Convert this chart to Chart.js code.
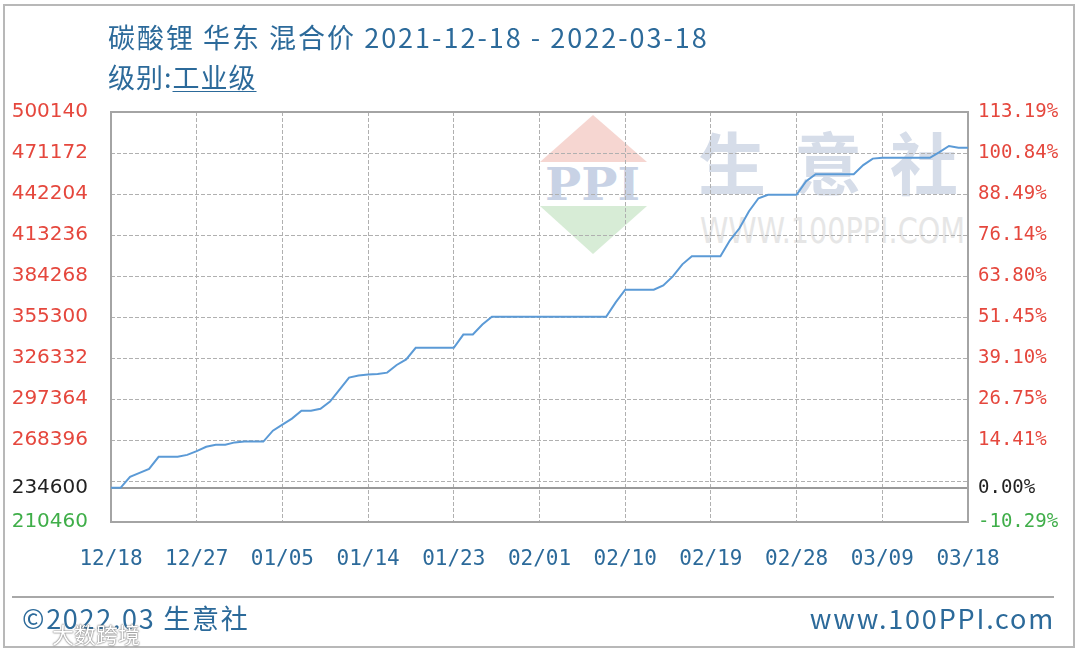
<!DOCTYPE html>
<html>
<head>
<meta charset="utf-8">
<script src="https://cdn.jsdelivr.net/npm/chart.js@4.4.1/dist/chart.umd.min.js"></script>
<style>
  html, body { margin: 0; padding: 0; background: #fff; }
  #wrap { position: relative; width: 1080px; height: 655px; overflow: hidden; font-family: "Noto Sans CJK SC", "Noto Sans", sans-serif; }
  .frame { position: absolute; left: 3px; top: 4px; width: 1072px; height: 644px; border: 2px solid #b8b8b8; box-sizing: border-box; }
  .txt { position: absolute; white-space: nowrap; line-height: 1; color: #2c6a9a; }
  #title { left: 108px; top: 23px; font-size: 27px; letter-spacing: 2px; }
  #grade { left: 108px; top: 63px; font-size: 27px; letter-spacing: 1px; }
  #grade u { text-decoration-thickness: 1px; text-underline-offset: 3px; }
  .sep { position: absolute; left: 12px; top: 596px; width: 1042px; height: 2px; background: #a8a8a8; }
  #copy { left: 22px; top: 604px; font-size: 27px; letter-spacing: 1.7px; }
  #site { right: 25px; top: 604px; font-size: 27px; letter-spacing: 1.8px; }
  #mark { left: 52px; top: 622px; font-size: 22px; color: #fff; text-shadow: 0 0 2px #666, 0 0 1px #666; }
  #wm { position: absolute; left: 0; top: 0; }
  #chart { position: absolute; left: 0; top: 0; }
</style>
</head>
<body>
<div id="wrap">
  <div class="frame"></div>
  <svg id="wm" width="1080" height="655">
    <polygon points="593,115 647,162 540,162" fill="#f6d6d1"/>
    <text x="545" y="200" font-family="DejaVu Serif" font-weight="bold" font-size="45" fill="#c8d2e5" textLength="95" lengthAdjust="spacingAndGlyphs">PPI</text>
    <polygon points="540,206 647,206 593,254" fill="#d7ecd6"/>
    <text x="698" y="190" font-family="Noto Sans CJK SC" font-weight="bold" font-size="68" fill="#d6dde9" letter-spacing="28">生意社</text>
    <text x="700" y="243" font-family="DejaVu Sans" font-size="35" fill="#e6e6e6" textLength="265" lengthAdjust="spacingAndGlyphs">WWW.100PPI.COM</text>
  </svg>
  <canvas id="chart" width="1080" height="655"></canvas>
  <div class="txt" id="title">碳酸锂 华东 混合价 2021-12-18 - 2022-03-18</div>
  <div class="txt" id="grade">级别:<u>工业级</u></div>
  <div class="sep"></div>
  <div class="txt" id="copy">©2022.03 生意社</div>
  <div class="txt" id="site">www.100PPI.com</div>
  <div class="txt" id="mark">大数跨境</div>
</div>
<script>
const tickLabels = ['12/18', '12/27', '01/05', '01/14', '01/23', '02/01', '02/10', '02/19', '02/28', '03/09', '03/18'];

// daily price, 2021-12-18 .. 2022-03-18
const prices = [
  234600, 234600, 242400, 245200, 248000, 256500, 256500, 256500, 257900, 260500,
  263600, 265000, 265000, 266700, 267300, 267300, 267300, 275000, 279200, 283500,
  289100, 289100, 290500, 295500, 304000, 312500, 313900, 314600, 315000, 316000,
  321400, 325300, 333500, 333500, 333500, 333500, 333500, 342900, 342900, 350000,
  355500, 355500, 355500, 355500, 355500, 355500, 355500, 355500, 355500, 355500,
  355500, 355500, 355500, 365600, 374600, 374600, 374600, 374600, 377600, 384000,
  392500, 398200, 398200, 398200, 398200, 409500, 418000, 430000, 439200, 441700,
  441700, 441700, 441700, 451300, 456200, 456200, 456200, 456200, 456200, 462600,
  467200, 467800, 467800, 467800, 467800, 467800, 467800, 471800, 476100, 474900,
  474900
];

const basePrice = 234600;
const priceTicks = [210460, 234600, 239428, 268396, 297364, 326332, 355300, 384268, 413236, 442204, 471172, 500140];
const unlabeledTicks = [239428];

const RED = '#e5473d';
const GREEN = '#3fae49';
const DARK = '#222222';

function tickColor(ctx) {
  const v = ctx.tick ? ctx.tick.value : null;
  if (v === basePrice) return DARK;
  if (v < basePrice) return GREEN;
  return RED;
}

function pct(v) {
  return ((v / basePrice - 1) * 100).toFixed(2) + '%';
}

const framePlugin = {
  id: 'frame',
  beforeDatasetsDraw(chart) {
    const { ctx, chartArea: a } = chart;
    ctx.save();
    ctx.strokeStyle = '#a4a4a4';
    ctx.lineWidth = 2;
    ctx.strokeRect(a.left, a.top, a.right - a.left, a.bottom - a.top);
    ctx.restore();
  }
};

new Chart(document.getElementById('chart'), {
  type: 'line',
  data: {
    datasets: [{
      data: prices.map((y, x) => ({ x, y })),
      borderColor: '#5b9ad6',
      borderWidth: 2,
      pointRadius: 0,
      tension: 0,
      yAxisID: 'y'
    }]
  },
  options: {
    responsive: false,
    animation: false,
    devicePixelRatio: 1,
    layout: { padding: { top: 112, left: 0, right: 0, bottom: 0 } },
    plugins: { legend: { display: false }, tooltip: { enabled: false } },
    scales: {
      x: {
        type: 'linear',
        min: 0,
        max: prices.length - 1,
        afterBuildTicks: s => { s.ticks = tickLabels.map((_, i) => ({ value: i * 9 })); },
        afterFit: s => { s.height = 133; },
        ticks: {
          callback: (v, i) => tickLabels[i],
          color: '#2c6a9a',
          font: { family: 'DejaVu Sans Mono', size: 21 },
          padding: 25,
          maxRotation: 0,
          autoSkip: false
        },
        grid: { color: '#b0b0b0', lineWidth: 1, drawTicks: false },
        border: { display: false, dash: [4, 2] }
      },
      y: {
        position: 'left',
        min: 210460,
        max: 500140,
        afterBuildTicks: s => { s.ticks = priceTicks.map(v => ({ value: v })); },
        afterFit: s => { s.width = 111; },
        ticks: {
          callback: v => unlabeledTicks.includes(v) ? '' : String(v),
          color: tickColor,
          font: { family: 'DejaVu Sans', size: 20 },
          padding: 23,
          autoSkip: false
        },
        grid: {
          drawTicks: false,
          color: ctx => ctx.tick && ctx.tick.value === 210460 ? 'rgba(0,0,0,0)' : (ctx.tick && ctx.tick.value === basePrice ? '#9a9a9a' : '#b0b0b0'),
          lineWidth: ctx => ctx.tick && ctx.tick.value === basePrice ? 2 : 1
        },
        border: { display: false, dash: ctx => (ctx.tick && ctx.tick.value === basePrice) ? [] : [4, 2] }
      },
      y2: {
        position: 'right',
        min: 210460,
        max: 500140,
        afterBuildTicks: s => { s.ticks = priceTicks.map(v => ({ value: v })); },
        afterFit: s => { s.width = 112; },
        ticks: {
          callback: v => unlabeledTicks.includes(v) ? '' : pct(v),
          color: tickColor,
          font: { family: 'DejaVu Sans Mono', size: 19 },
          padding: 10,
          autoSkip: false
        },
        grid: { display: false, drawTicks: false },
        border: { display: false }
      }
    }
  },
  plugins: [framePlugin]
});
</script>
</body>
</html>
